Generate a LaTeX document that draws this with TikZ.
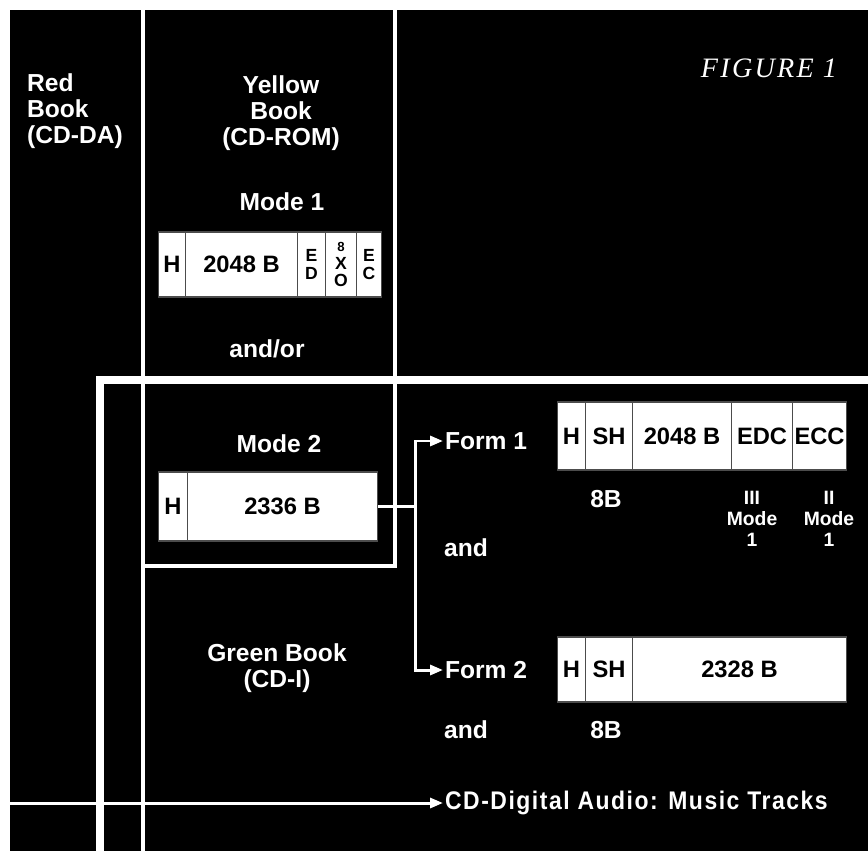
\documentclass[tikz,border=0pt]{standalone}
\usepackage{fontspec}
\setmainfont{Liberation Sans}
\newfontfamily\condfont[FakeStretch=0.9,LetterSpace=6]{Liberation Sans}
\newfontfamily\figfont[LetterSpace=8]{Liberation Serif}
\usetikzlibrary{arrows.meta,positioning}

\begin{document}
\begin{tikzpicture}[x=0.02cm, y=-0.02cm, >={Triangle[length=0.26cm,width=0.2cm]},
    lbl/.style={text=white, font=\fontsize{14}{14.7}\selectfont\bfseries, align=center, inner sep=1pt},
    sublbl/.style={text=white, font=\fontsize{11}{12}\selectfont\bfseries, align=center, inner sep=0pt},
    cell/.style={draw=black!70, line width=0.6pt, fill=white, text=black, font=\fontsize{13.5}{14}\selectfont\bfseries, inner sep=0pt, align=center, anchor=west},
    stack/.style={font=\fontsize{10}{9.8}\selectfont\bfseries},
    thinline/.style={white, line width=2pt},
    thickline/.style={white, line width=5pt, line join=miter},
    link/.style={white, line width=1.7pt, line join=miter}]

    \def\px{0.02cm}

    % background
    \useasboundingbox (0,0) rectangle (868,851);
    \fill[white] (0,0) rectangle (868,851);
    \fill[black] (10,10) rectangle (868,851);

    % book borders
    \draw[thinline] (143,10) -- (143,851);
    \draw[thinline, line join=miter] (395,10) -- (395,566) -- (143,566);
    \draw[thickline] (100,851) -- (100,380) -- (868,380);

    % titles
    \node[lbl, align=left, anchor=west] (red) at (25,111) {Red\\Book\\(CD-DA)};
    \node[lbl] (yellow) at (281,113) {Yellow\\Book\\(CD-ROM)};
    \node[lbl] (green) at (277,668) {Green Book\\(CD-I)};
    \node[text=white, font=\figfont\itshape\fontsize{16}{17}\selectfont] (fig) at (769,68) {FIGURE 1};

    % mode 1
    \node[lbl] (mode1) at (282,202) {Mode 1};
    \foreach \n/\x/\w/\t in {h/158/27/H, data/185/112/2048 B}{
        \node[cell, minimum width=\w*\px, minimum height=65*\px] (m1\n) at (\x,264.5) {\t};
    }
    \foreach \n/\x/\w/\t in {ed/297/28/E\\D, xo/325/31/{{\fontsize{7.5}{7.5}\selectfont 8}\\X\\O}, ec/356/25/E\\C}{
        \node[cell, stack, minimum width=\w*\px, minimum height=65*\px] (m1\n) at (\x,264.5) {\t};
    }
    \node[lbl] (andor) at (267,349) {and/or};

    % mode 2
    \node[lbl] (mode2) at (279,444) {Mode 2};
    \foreach \n/\x/\w/\t in {h/158/29/H, data/187/190/2336 B}{
        \node[cell, minimum width=\w*\px, minimum height=69*\px] (m2\n) at (\x,506.5) {\t};
    }

    % form 1
    \node[lbl, anchor=west] (form1) at (443,441) {Form 1};
    \foreach \n/\x/\w/\t in {h/557/28/H, sh/585/47/SH, data/632/99/2048 B, edc/731/61/EDC, ecc/792/54/ECC}{
        \node[cell, minimum width=\w*\px, minimum height=68*\px] (f1\n) at (\x,436) {\t};
    }
    \node[lbl] (f1size) at (606,499) {8B};
    \node[sublbl] (edcnote) at (752,519) {III\\Mode\\1};
    \node[sublbl] (eccnote) at (829,519) {II\\Mode\\1};
    \node[lbl] (and1) at (466,548) {and};

    % form 2
    \node[lbl, anchor=west] (form2) at (443,670) {Form 2};
    \foreach \n/\x/\w/\t in {h/557/28/H, sh/585/47/SH, data/632/214/2328 B}{
        \node[cell, minimum width=\w*\px, minimum height=65*\px] (f2\n) at (\x,669.5) {\t};
    }
    \node[lbl] (and2) at (466,730) {and};
    \node[lbl] (f2size) at (606,730) {8B};

    % audio tracks
    \node[text=white, font=\condfont\bfseries\fontsize{14.5}{15}\selectfont, anchor=west, inner sep=1pt] (audio) at (443,803) {CD-Digital Audio: Music Tracks};
    \coordinate (audiostart) at (10,803);
    \draw[link, ->] (audiostart) -- (audio.west);

    % mode 2 split
    \draw[link] (m2data.east) -- ++(37,0) coordinate (split);
    \draw[link, ->] (split) |- (form1.west);
    \draw[link, ->] (split) |- (form2.west);
\end{tikzpicture}
\end{document}
